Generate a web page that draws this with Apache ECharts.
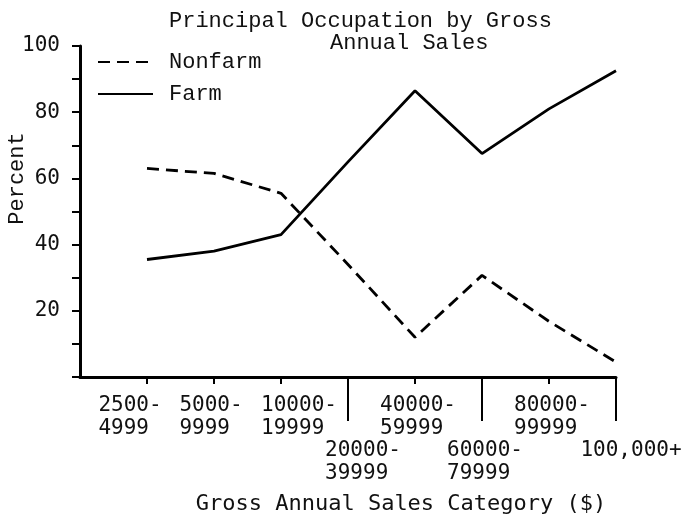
<!DOCTYPE html>
<html>
<head>
<meta charset="utf-8">
<script src="https://cdn.jsdelivr.net/npm/echarts@6/dist/echarts.min.js"></script>
<style>
html, body { margin: 0; padding: 0; background: #fff; }
#chart { width: 690px; height: 525px; }
</style>
</head>
<body>
<div id="chart"></div>
<script>
// sales categories (first slot left empty so the y axis sits one step before the first point)
var categories = ['2500-\n4999', '5000-\n9999', '10000-\n19999', '20000-\n39999',
	'40000-\n59999', '60000-\n79999', '80000-\n99999', '100,000+'];
var nonfarm = [63, 61.5, 55.5, 34, 12, 30.7, 16.8, 4.5];
var farm = [35.5, 38, 43, 65, 86.5, 67.5, 81, 92.5];
var yTicks = [20, 40, 60, 80, 100];

// categories whose label sits on the second row with a long tick
var lowRow = [4, 6, 8];
// horizontal nudge of each label (px), index matches xData
var labelNudge = [0, -17, -3, 18, 15, 3, 3, 3, 15];

var xData = [''].concat(categories);
var monoSans = 'DejaVu Sans Mono';
var monoType = 'Liberation Mono';

var rich = {};
for (var i = 0; i < xData.length; i++) {
	var n = labelNudge[i];
	rich['n' + i] = {
		fontFamily: monoSans, fontSize: 21, lineHeight: 23, color: '#111',
		padding: n >= 0 ? [0, 0, 0, 2 * n] : [0, -2 * n, 0, 0]
	};
}

function fmtLabel(value, index) {
	if (!value) return '';
	var lines = value.split('\n');
	var w = 0;
	lines.forEach(function(l) { w = Math.max(w, l.length); });
	return lines.map(function(l) {
		while (l.length < w) l += ' ';
		return '{n' + index + '|' + l + '}';
	}).join('\n');
}

var myChart = echarts.init(document.getElementById('chart'));
var option = {
	backgroundColor: '#fff',
	animation: false,
	title: [{
		text: 'Principal Occupation by Gross',
		left: 169, top: 10, padding: 0,
		textStyle: { fontFamily: monoType, fontSize: 22, fontWeight: 'normal', color: '#111' }
	}, {
		text: 'Annual Sales',
		left: 330, top: 32, padding: 0,
		textStyle: { fontFamily: monoType, fontSize: 22, fontWeight: 'normal', color: '#111' }
	}],
	legend: {
		orient: 'vertical',
		left: 97, top: 51,
		padding: 0,
		itemWidth: 55, itemHeight: 14,
		itemGap: 10,
		itemStyle: { opacity: 0 },
		textStyle: { fontFamily: monoType, fontSize: 22, lineHeight: 22, color: '#111', padding: [0, 0, 0, 11] },
		data: ['Nonfarm', 'Farm']
	},
	grid: { left: 80, right: 74, top: 46, bottom: 148, outerBoundsMode: 'none' },
	xAxis: [{
		type: 'category',
		data: xData,
		boundaryGap: false,
		name: 'Gross Annual Sales Category ($)',
		nameLocation: 'middle',
		nameGap: 116,
		nameMoveOverlap: false,
		nameTextStyle: { fontFamily: monoSans, fontSize: 22, color: '#111', padding: [0, 0, 0, 106] },
		axisLine: { lineStyle: { color: '#000', width: 3 } },
		axisTick: {
			length: 7, lineStyle: { color: '#000', width: 2 },
			interval: function(index) { return index > 0; }
		},
		axisLabel: {
			interval: 0, margin: 17,
			formatter: function(value, index) {
				return lowRow.indexOf(index) >= 0 ? '' : fmtLabel(value, index);
			},
			rich: rich
		},
		splitLine: { show: false }
	}, {
		type: 'category',
		data: xData,
		boundaryGap: false,
		position: 'bottom',
		axisLine: { show: false },
		axisTick: {
			length: 44, lineStyle: { color: '#000', width: 2 },
			interval: function(index) { return lowRow.indexOf(index) >= 0; }
		},
		axisLabel: {
			interval: 0, margin: 62,
			formatter: function(value, index) {
				return lowRow.indexOf(index) >= 0 ? fmtLabel(value, index) : '';
			},
			rich: rich
		},
		splitLine: { show: false }
	}],
	yAxis: {
		type: 'value',
		min: 0, max: 100, interval: 10,
		name: 'Percent',
		nameLocation: 'middle',
		nameGap: 52,
		nameMoveOverlap: false,
		nameTextStyle: { fontFamily: monoType, fontSize: 22, color: '#111', padding: [0, 0, 0, 66] },
		axisLine: { show: true, lineStyle: { color: '#000', width: 3 } },
		axisTick: { show: true, length: 8, lineStyle: { color: '#000', width: 2 } },
		axisLabel: {
			margin: 20,
			fontFamily: monoSans, fontSize: 21, color: '#111',
			formatter: function(v) { return yTicks.indexOf(v) >= 0 ? String(v) : ''; }
		},
		splitLine: { show: false }
	},
	series: [{
		name: 'Nonfarm',
		type: 'line',
		symbol: 'none',
		data: [null].concat(nonfarm),
		itemStyle: { color: '#000' },
		lineStyle: { color: '#000', width: 2.8, type: [12, 7] }
	}, {
		name: 'Farm',
		type: 'line',
		symbol: 'none',
		data: [null].concat(farm),
		itemStyle: { color: '#000' },
		lineStyle: { color: '#000', width: 2.8 }
	}]
};
myChart.setOption(option);
</script>
</body>
</html>
